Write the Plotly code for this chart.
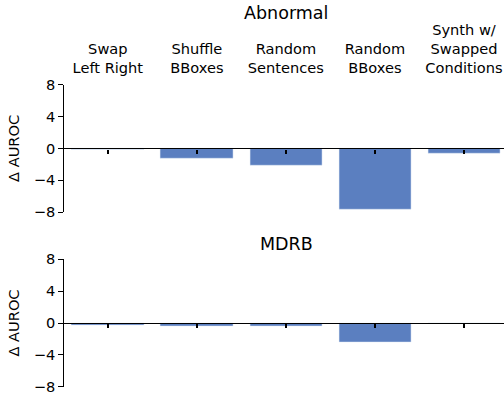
import plotly.graph_objects as go

categories = ["Swap<br>Left Right", "Shuffle<br>BBoxes", "Random<br>Sentences",
              "Random<br>BBoxes", "Synth w/<br>Swapped<br>Conditions"]
abnormal_vals = [-0.15, -1.3, -2.15, -7.7, -0.65]
mdrb_vals = [-0.35, -0.45, -0.45, -2.45, 0.0]
y_ticks = [-8, -4, 0, 4, 8]

W, H = 504, 398
BLUE = "#5b7fc0"
FONT = "DejaVu Sans"
TICK_SIZE = 14.6
TITLE_SIZE = 17.5
xpos = list(range(len(categories)))

def frac_y(px):
    return (H - px) / H

top_dom = [frac_y(212.3), frac_y(84.5)]
bot_dom = [frac_y(386.7), frac_y(259.3)]
x_dom = [63.3 / W, 1.0]
xr = [-0.5, 4.45]

fig = go.Figure()
fig.add_trace(go.Bar(x=xpos, y=abnormal_vals, marker_color=BLUE, width=0.81,
                     xaxis="x", yaxis="y", showlegend=False))
fig.add_trace(go.Bar(x=xpos, y=mdrb_vals, marker_color=BLUE, width=0.81,
                     xaxis="x2", yaxis="y2", showlegend=False))
# invisible trace to carry the top category label axis
fig.add_trace(go.Scatter(x=xpos, y=[None] * len(xpos), xaxis="x3", yaxis="y",
                         showlegend=False, hoverinfo="skip"))

common_x = dict(range=xr, domain=x_dom, showgrid=False, zeroline=False, automargin=False,
                showline=True, linecolor="black", linewidth=1.3,
                ticks="outside", ticklen=4, tickwidth=1.5, tickcolor="black",
                tickvals=xpos, showticklabels=False)
common_y = dict(range=[-8, 8], tickvals=y_ticks, showgrid=False, zeroline=False, automargin=False,
                showline=True, linecolor="black", linewidth=1.2,
                ticks="outside", ticklen=5, tickwidth=1, tickcolor="black",
                tickfont=dict(family=FONT, size=TICK_SIZE, color="black"),
                title=dict(text="Δ AUROC", font=dict(family=FONT, size=TICK_SIZE, color="black"),
                           standoff=9))

fig.update_layout(
    width=W, height=H,
    margin=dict(l=0, r=0, t=0, b=0, autoexpand=False),
    plot_bgcolor="white", paper_bgcolor="white",
    bargap=0,
    xaxis=dict(common_x, anchor="free", position=(top_dom[0] + top_dom[1]) / 2),
    yaxis=dict(common_y, domain=top_dom, anchor="free", position=x_dom[0]),
    xaxis2=dict(common_x, anchor="free", position=(bot_dom[0] + bot_dom[1]) / 2),
    yaxis2=dict(common_y, domain=bot_dom, anchor="free", position=x_dom[0]),
    xaxis3=dict(range=xr, domain=x_dom, overlaying="x", side="top", anchor="y",
                tickvals=xpos, ticktext=categories, showgrid=False, zeroline=False,
                showline=False, ticks="", ticklabelstandoff=8, automargin=False,
                tickfont=dict(family=FONT, size=TICK_SIZE, color="black")),
    annotations=[
        dict(text="Abnormal", x=285.5 / W, y=frac_y(13), xref="paper", yref="paper",
             showarrow=False, font=dict(family=FONT, size=TITLE_SIZE, color="black"),
             xanchor="center", yanchor="middle"),
        dict(text="MDRB", x=286 / W, y=frac_y(244), xref="paper", yref="paper",
             showarrow=False, font=dict(family=FONT, size=TITLE_SIZE, color="black"),
             xanchor="center", yanchor="middle"),
    ],
)

fig.write_html("out.html")
